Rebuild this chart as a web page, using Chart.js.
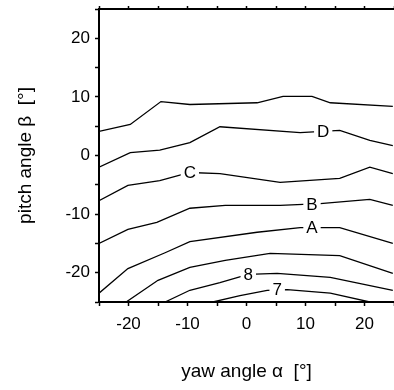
<!DOCTYPE html>
<html>
<head>
<meta charset="utf-8">
<script src="https://cdn.jsdelivr.net/npm/chart.js@4"></script>
<style>
  html, body { margin: 0; padding: 0; background: #fff; }
  #wrap { width: 394px; height: 390px; }
</style>
</head>
<body>
<div id="wrap"><canvas id="myChart" width="394" height="390"></canvas></div>
<script>
// contour lines, yaw angle (x) and pitch angle (y)
const lineE_x = [-25, -19.7, -14.5, -9.6, 1.8, 6.2, 11.1, 14.2, 24.8];
const lineE_y = [4.1, 5.3, 9.2, 8.7, 9.0, 10.1, 10.1, 9.0, 8.4];

const lineD_x = [-25, -19.7, -14.7, -9.6, -4.5, 9.1, 15.8, 20.9, 24.8];
const lineD_y = [-2.0, 0.5, 0.9, 2.2, 4.9, 3.9, 4.3, 2.6, 1.7];

const lineC_x = [-25, -20.1, -14.7, -9.6, -4.5, 5.7, 15.8, 20.9, 24.8];
const lineC_y = [-7.7, -5.1, -4.3, -2.9, -3.1, -4.6, -3.9, -2.0, -3.1];

const lineB_x = [-25, -20.1, -15.2, -9.6, -3.6, 5.7, 12.5, 20.9, 24.8];
const lineB_y = [-15.0, -12.6, -11.4, -9.0, -8.5, -8.5, -8.2, -7.5, -8.5];

const lineA_x = [-25, -20.1, -13.8, -9.6, 1.8, 9.1, 15.8, 24.8];
const lineA_y = [-23.5, -19.3, -16.6, -14.7, -13.1, -12.3, -12.3, -15.0];

const line9_x = [-20.4, -15.0, -9.6, -3.6, 4.0, 15.8, 24.8];
const line9_y = [-25, -21.3, -19.1, -17.9, -16.7, -17.1, -20.1];

const line8_x = [-13.8, -9.6, -4.5, 0.3, 5.2, 14.2, 24.8];
const line8_y = [-25, -23.0, -21.7, -20.3, -20.1, -20.8, -23.0];

const line7_x = [-5.7, -1.1, 3.5, 6.9, 14.2, 20.9];
const line7_y = [-25, -23.9, -23.0, -22.9, -23.5, -25];

// labels written on the lines
const labelText = ['D', 'C', 'B', 'A', '8', '7'];
const labelX = [13.0, -9.6, 11.1, 11.1, 0.3, 5.2];
const labelY = [4.2, -2.9, -8.3, -12.3, -20.3, -22.9];

const tickValues = [-20, -10, 0, 10, 20];

function toPoints(xs, ys) {
  return xs.map((x, i) => ({ x: x, y: ys[i] }));
}

function lineSet(xs, ys) {
  return {
    data: toPoints(xs, ys),
    showLine: true,
    fill: false,
    borderColor: '#000',
    borderWidth: 1.3,
    pointRadius: 0,
    tension: 0
  };
}

const lineLabels = {
  id: 'lineLabels',
  afterDatasetsDraw(chart) {
    const ctx = chart.ctx;
    const xs = chart.scales.x;
    const ys = chart.scales.y;
    ctx.save();
    ctx.font = '17px "Liberation Sans", Arial, sans-serif';
    ctx.textAlign = 'center';
    ctx.textBaseline = 'middle';
    labelText.forEach((t, i) => {
      const px = xs.getPixelForValue(labelX[i]);
      const py = ys.getPixelForValue(labelY[i]);
      const w = ctx.measureText(t).width;
      ctx.fillStyle = '#fff';
      ctx.fillRect(px - w / 2 - 3, py - 8, w + 6, 16);
      ctx.fillStyle = '#000';
      ctx.fillText(t, px, py + 1);
    });
    ctx.restore();
  }
};

function tickLabel(v) {
  return tickValues.includes(v) ? String(v) : '';
}

function noPad(s) {
  s.paddingLeft = 0;
  s.paddingRight = 0;
  s.paddingTop = 0;
  s.paddingBottom = 0;
}

const tickFont = { family: '"Liberation Sans", Arial, sans-serif', size: 17 };
const titleFont = { family: '"Liberation Sans", Arial, sans-serif', size: 19 };

const ctx = document.getElementById('myChart').getContext('2d');
const myChart = new Chart(ctx, {
  type: 'scatter',
  data: {
    datasets: [
      lineSet(lineE_x, lineE_y),
      lineSet(lineD_x, lineD_y),
      lineSet(lineC_x, lineC_y),
      lineSet(lineB_x, lineB_y),
      lineSet(lineA_x, lineA_y),
      lineSet(line9_x, line9_y),
      lineSet(line8_x, line8_y),
      lineSet(line7_x, line7_y)
    ]
  },
  options: {
    responsive: false,
    animation: false,
    layout: { padding: 0 },
    plugins: {
      legend: { display: false },
      tooltip: { enabled: false }
    },
    scales: {
      x: {
        type: 'linear',
        position: 'bottom',
        min: -25,
        max: 25,
        afterFit: (s) => { s.height = 88; noPad(s); },
        ticks: { stepSize: 5, color: '#000', font: tickFont, padding: 8, maxRotation: 0, autoSkip: false, callback: tickLabel },
        grid: { drawOnChartArea: false, drawTicks: true, tickLength: 4, tickColor: '#000', tickWidth: 1.5 },
        border: { display: true, color: '#000', width: 2 },
        title: { display: true, text: 'yaw angle \u03b1  [\u00b0]', color: '#000', font: titleFont, padding: { top: 0, bottom: 7 } }
      },
      x2: {
        type: 'linear',
        position: 'top',
        min: -25,
        max: 25,
        afterFit: (s) => { s.height = 9; noPad(s); },
        ticks: { stepSize: 5, display: false },
        grid: { drawOnChartArea: false, drawTicks: true, tickLength: 3, tickColor: '#000', tickWidth: 1.5 },
        border: { display: true, color: '#000', width: 2 }
      },
      y: {
        type: 'linear',
        position: 'left',
        min: -25,
        max: 25,
        afterFit: (s) => { s.width = 99; noPad(s); },
        ticks: { stepSize: 5, color: '#000', font: tickFont, padding: 5, autoSkip: false, callback: tickLabel },
        grid: { drawOnChartArea: false, drawTicks: true, tickLength: 4, tickColor: '#000', tickWidth: 1.5 },
        border: { display: true, color: '#000', width: 2 },
        title: { display: true, text: 'pitch angle \u03b2  [\u00b0]', color: '#000', font: titleFont, padding: { top: 14, bottom: 0 } }
      }
    }
  },
  plugins: [lineLabels]
});
</script>
</body>
</html>
